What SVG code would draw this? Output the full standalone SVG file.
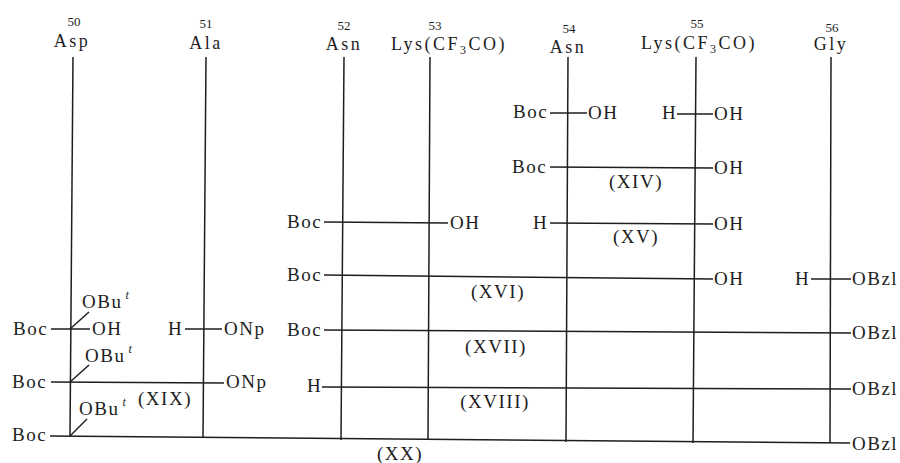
<svg xmlns="http://www.w3.org/2000/svg" width="900" height="463" viewBox="0 0 900 463">
<style>
text{font-family:"Liberation Serif","DejaVu Serif",serif;fill:#1e1e1e}
.num{font-size:13px;text-anchor:middle}
.res{font-size:18px;letter-spacing:2.5px}
.resm{text-anchor:middle}
.lb{font-size:19px;letter-spacing:1.5px}
.cp{font-size:19px;letter-spacing:1.5px;text-anchor:middle}
.sup{font-size:12px;font-style:italic}
.ln line{stroke:#1e1e1e;stroke-width:1.5;stroke-linecap:butt}
</style>
<rect width="900" height="463" fill="#fff"/>
<g id="col50"><text class="num" x="74" y="26">50</text><text class="res resm" x="72" y="47">Asp</text></g>
<g id="col51"><text class="num" x="206" y="28">51</text><text class="res resm" x="206" y="49">Ala</text></g>
<g id="col52"><text class="num" x="344" y="30">52</text><text class="res resm" x="344" y="50">Asn</text></g>
<g id="col53"><text class="num" x="435" y="30">53</text><text class="res" x="391" y="50">Lys(CF<tspan font-size="12" dy="4">3</tspan><tspan dy="-4">CO)</tspan></text></g>
<g id="col54"><text class="num" x="569" y="33">54</text><text class="res resm" x="568" y="53">Asn</text></g>
<g id="col55"><text class="num" x="697" y="28">55</text><text class="res" x="641" y="49">Lys(CF<tspan font-size="12" dy="4">3</tspan><tspan dy="-4">CO)</tspan></text></g>
<g id="col56"><text class="num" x="832" y="32">56</text><text class="res resm" x="831" y="50">Gly</text></g>
<g id="connectors" class="ln">
<line x1="73" y1="57" x2="70" y2="437"/>
<line x1="206" y1="57" x2="203" y2="438"/>
<line x1="344" y1="57" x2="341" y2="440"/>
<line x1="430" y1="57" x2="428" y2="440"/>
<line x1="568" y1="57" x2="566" y2="442"/>
<line x1="696" y1="57" x2="693" y2="443"/>
<line x1="831" y1="57" x2="830" y2="443"/>
<line x1="550" y1="113" x2="587" y2="113"/>
<line x1="677" y1="114" x2="713" y2="114"/>
<line x1="550" y1="167" x2="713" y2="168"/>
<line x1="324" y1="222" x2="448" y2="223"/>
<line x1="550" y1="223" x2="713" y2="224"/>
<line x1="324" y1="275" x2="713" y2="279"/>
<line x1="811" y1="279" x2="851" y2="279"/>
<line x1="51" y1="329" x2="90" y2="329"/>
<line x1="185" y1="329" x2="222" y2="329"/>
<line x1="324" y1="330" x2="851" y2="333"/>
<line x1="51" y1="382" x2="224" y2="383"/>
<line x1="322" y1="387" x2="851" y2="389"/>
<line x1="50" y1="436" x2="850" y2="443"/>
<line x1="70" y1="329" x2="89" y2="312"/>
<line x1="70" y1="382" x2="89" y2="365"/>
<line x1="70" y1="436" x2="87" y2="419"/>
</g>
<g id="row1">
<text class="lb" x="513" y="118">Boc</text><text class="lb" x="588" y="119">OH</text>
<text class="lb" x="662" y="119">H</text><text class="lb" x="714" y="120">OH</text>
</g>
<g id="XIV">
<text class="lb" x="512" y="173">Boc</text><text class="lb" x="714" y="174">OH</text>
<text class="cp" x="636" y="188">(XIV)</text>
</g>
<g id="row3a">
<text class="lb" x="287" y="228">Boc</text><text class="lb" x="450" y="229">OH</text>
</g>
<g id="XV">
<text class="lb" x="533" y="229">H</text><text class="lb" x="714" y="230">OH</text>
<text class="cp" x="636" y="243">(XV)</text>
</g>
<g id="XVI">
<text class="lb" x="287" y="281">Boc</text><text class="lb" x="714" y="285">OH</text>
<text class="cp" x="498" y="298">(XVI)</text>
</g>
<g id="row4b">
<text class="lb" x="795" y="285">H</text><text class="lb" x="852" y="285">OBzl</text>
</g>
<g id="row5a">
<text class="lb" x="13" y="335">Boc</text><text class="lb" x="92" y="335">OH</text>
<text class="lb" x="82" y="308">OBu<tspan class="sup" dx="3" dy="-9">t</tspan></text>
</g>
<g id="row5b">
<text class="lb" x="168" y="335">H</text><text class="lb" x="224" y="335">ONp</text>
</g>
<g id="XVII">
<text class="lb" x="287" y="336">Boc</text><text class="lb" x="852" y="339">OBzl</text>
<text class="cp" x="496" y="353">(XVII)</text>
</g>
<g id="XIX">
<text class="lb" x="12" y="388">Boc</text>
<text class="lb" x="85" y="362">OBu<tspan class="sup" dx="3" dy="-9">t</tspan></text>
<text class="lb" x="226" y="388">ONp</text>
<text class="cp" x="165" y="405">(XIX)</text>
</g>
<g id="XVIII">
<text class="lb" x="307" y="392">H</text><text class="lb" x="852" y="395">OBzl</text>
<text class="cp" x="495" y="408">(XVIII)</text>
</g>
<g id="XX">
<text class="lb" x="12" y="441">Boc</text>
<text class="lb" x="79" y="415">OBu<tspan class="sup" dx="3" dy="-9">t</tspan></text>
<text class="lb" x="852" y="450">OBzl</text>
<text class="cp" x="400" y="460">(XX)</text>
</g>
</svg>
